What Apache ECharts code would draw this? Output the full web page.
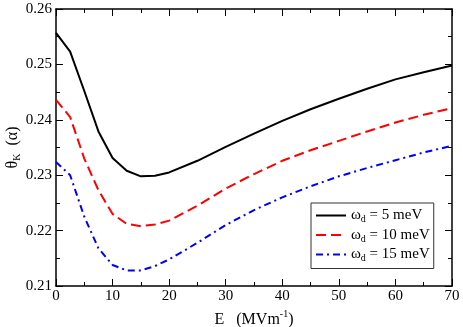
<!DOCTYPE html>
<html>
<head>
<meta charset="utf-8">
<script src="https://cdn.jsdelivr.net/npm/echarts@6/dist/echarts.min.js"></script>
<style>
  html, body { margin: 0; padding: 0; background: #fff; }
  #chart { width: 463px; height: 327px; }
</style>
</head>
<body>
<div id="chart"></div>
<script>
// field E (MV/m) and theta_K (alpha)
var eField = [0, 2.5, 5, 7.5, 10, 12.5, 15, 17.5, 20, 25, 30, 35, 40, 45, 50, 55, 60, 65, 70];
var theta5 = [0.2557, 0.2523, 0.2452, 0.2379, 0.2331, 0.2308, 0.2298, 0.2299, 0.2305, 0.2326, 0.2351, 0.2375, 0.2398, 0.2419, 0.2438, 0.2456, 0.2473, 0.2486, 0.2498];
var theta10 = [0.2436, 0.2405, 0.2330, 0.2273, 0.2230, 0.2212, 0.2208, 0.2211, 0.2218, 0.2245, 0.2276, 0.2302, 0.2326, 0.2345, 0.2362, 0.2379, 0.2395, 0.2409, 0.2421];
var theta15 = [0.2324, 0.2300, 0.2225, 0.2168, 0.2138, 0.2128, 0.2128, 0.2136, 0.2148, 0.2178, 0.2210, 0.2237, 0.2260, 0.2280, 0.2298, 0.2313, 0.2327, 0.2341, 0.2353];
var legendNames = ['5 meV', '10 meV', '15 meV'];
var xTicks = { min: 0, max: 70, step: 10 };
var yTicks = { min: 0.21, max: 0.26, step: 0.01 };

var font = 'Liberation Serif';

function pairs(ys) {
    var out = [];
    for (var i = 0; i < eField.length; i++) {
        out.push([eField[i], ys[i]]);
    }
    return out;
}

function frameAxis(pos, ticks, showLabel) {
    var ax = {
        type: 'value',
        position: pos,
        min: ticks.min,
        max: ticks.max,
        interval: ticks.step,
        axisLine: { show: true, onZero: false, lineStyle: { color: '#000', width: 1.5 } },
        axisTick: { show: true, inside: true, length: 7, lineStyle: { color: '#000', width: 1 } },
        minorTick: { show: true, splitNumber: 2, length: 4, lineStyle: { color: '#000', width: 1 } },
        splitLine: { show: false },
        axisLabel: { show: showLabel, color: '#000', fontFamily: font, fontSize: 15 }
    };
    return ax;
}

var chart = echarts.init(document.getElementById('chart'));

var xBottom = frameAxis('bottom', xTicks, true);
xBottom.axisLabel.margin = 3;
xBottom.name = 'E   (MVm{sup|-1})';
xBottom.nameLocation = 'middle';
xBottom.nameGap = 18;
xBottom.nameTextStyle = {
    color: '#000', fontFamily: font, fontSize: 16,
    rich: { sup: { fontFamily: font, fontSize: 10, padding: [0, 0, 12, 0] } }
};
var xTop = frameAxis('top', xTicks, false);

var yLeft = frameAxis('left', yTicks, true);
yLeft.axisLabel.margin = 4;
yLeft.axisLabel.formatter = function (v) { return v.toFixed(2); };
yLeft.name = 'θ{sub|K}  (α)';
yLeft.nameLocation = 'middle';
yLeft.nameGap = 34;
yLeft.nameMoveOverlap = false;
yLeft.nameTextStyle = {
    color: '#000', fontFamily: font, fontSize: 16,
    rich: { sub: { fontFamily: font, fontSize: 10, padding: [8, 0, 0, 0] } }
};
var yRight = frameAxis('right', yTicks, false);

function lineSeries(name, ys, color, dash) {
    return {
        name: name,
        type: 'line',
        xAxisIndex: 0,
        yAxisIndex: 0,
        data: pairs(ys),
        symbol: 'none',
        smooth: false,
        lineStyle: { color: color, width: 2, type: dash },
        itemStyle: { color: color }
    };
}

var option = {
    animation: false,
    backgroundColor: '#fff',
    grid: { left: 56, right: 11, top: 9, bottom: 41, outerBoundsMode: 'none', containLabel: false },
    legend: {
        orient: 'vertical',
        left: 311,
        top: 203,
        padding: [5, 4, 5, 4],
        itemGap: 3,
        itemWidth: 30,
        itemHeight: 14,
        borderColor: '#333',
        borderWidth: 1,
        backgroundColor: '#fff',
        itemStyle: { opacity: 0 },
        data: legendNames,
        formatter: function (name) { return 'ω{sub|d} = ' + name; },
        textStyle: {
            color: '#000', fontFamily: font, fontSize: 15,
            rich: { sub: { fontFamily: font, fontSize: 10, padding: [8, 0, 0, 0] } }
        }
    },
    xAxis: [xBottom, xTop],
    yAxis: [yLeft, yRight],
    series: [
        lineSeries(legendNames[0], theta5, '#000', 'solid'),
        lineSeries(legendNames[1], theta10, '#ff0000', [10, 5]),
        lineSeries(legendNames[2], theta15, '#0000ff', [7, 4, 2, 4])
    ]
};

chart.setOption(option);
</script>
</body>
</html>
